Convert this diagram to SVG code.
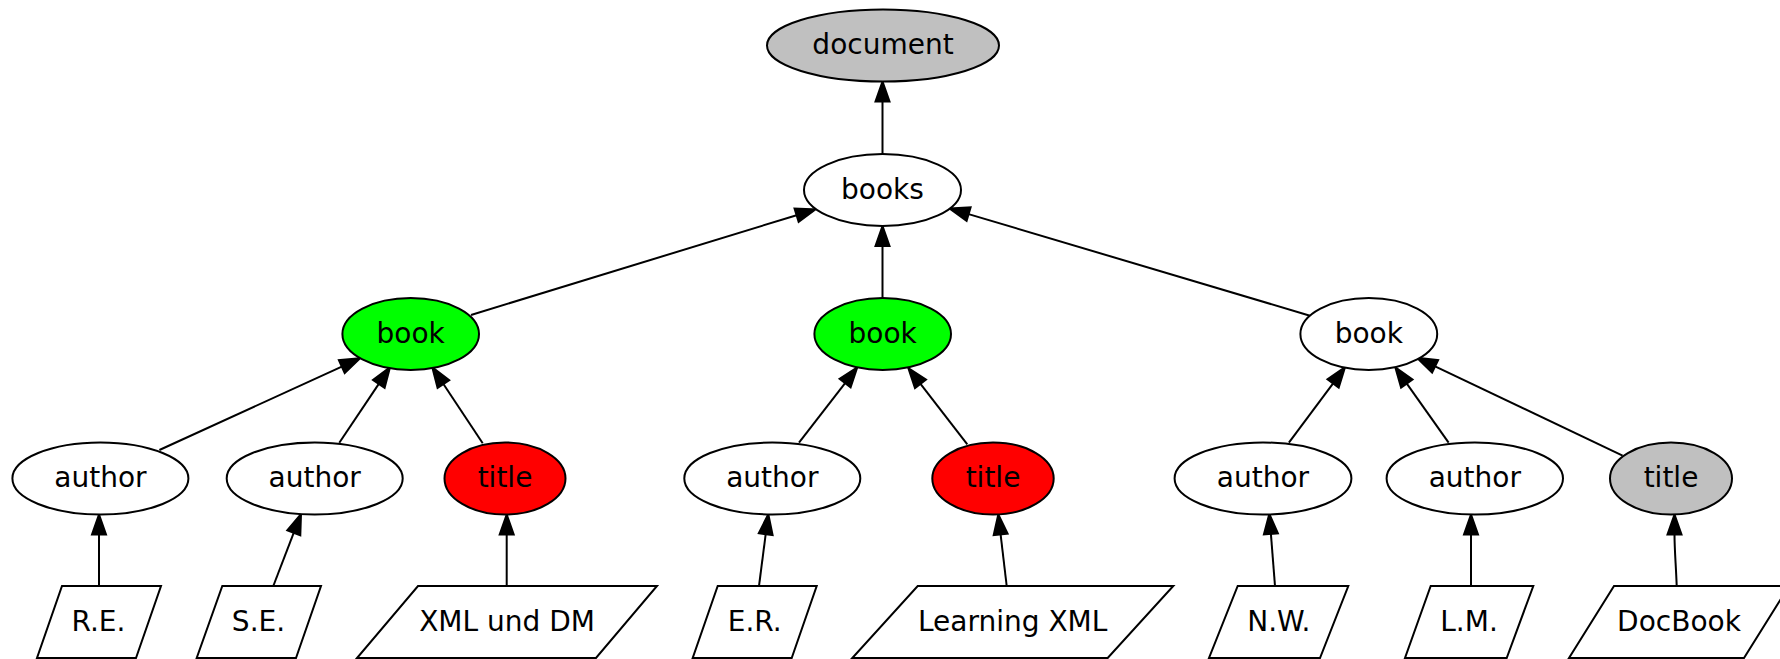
<svg xmlns="http://www.w3.org/2000/svg" width="1780" height="659" viewBox="0 0 1780 659">
<style>
.n{stroke:#000;stroke-width:2}
.w{fill:#fff}
.g{fill:#c0c0c0}
.gr{fill:#00ff00}
.r{fill:#ff0000}
text{font-family:"DejaVu Sans",sans-serif;font-size:28px;text-anchor:middle;fill:#000}
.e line,.e path{stroke:#000;stroke-width:2;fill:none}
.e polygon{fill:#000;stroke:#000;stroke-width:2}
</style>
<rect width="1780" height="659" fill="#fff"/>
<g class="e" id="connectors">
<line x1="882.5" y1="154" x2="882.5" y2="101.5"/><polygon points="882.5,81.5 875.5,101.5 889.5,101.5"/>
<line x1="471" y1="315" x2="796.6" y2="215.2"/><polygon points="815.7,209.3 798.65,221.9 794.55,208.5"/>
<line x1="882.5" y1="297.7" x2="882.5" y2="246"/><polygon points="882.5,226 875.5,246 889.5,246"/>
<line x1="1310" y1="315.7" x2="968.6" y2="214.1"/><polygon points="949.4,208.4 970.6,207.4 966.6,220.8"/>
<line x1="159.4" y1="450" x2="341.8" y2="366.6"/><polygon points="360,358.3 344.7,373 338.9,360.2"/>
<line x1="339.3" y1="442.7" x2="378.8" y2="383.9"/><polygon points="390,367.3 384.6,387.8 373,380"/>
<line x1="482.7" y1="443.3" x2="443.4" y2="384"/><polygon points="432.3,367.3 449.2,380.1 437.6,387.9"/>
<line x1="799" y1="442.7" x2="845.1" y2="383.1"/><polygon points="857.3,367.3 850.6,387.4 839.6,378.8"/>
<line x1="967.3" y1="444.3" x2="920.5" y2="383.8"/><polygon points="908.3,368 926,379.5 915,388.1"/>
<line x1="1288.9" y1="442.7" x2="1333.1" y2="383.4"/><polygon points="1345,367.3 1338.7,387.6 1327.5,379.2"/>
<line x1="1448.6" y1="442.7" x2="1406.8" y2="383.6"/><polygon points="1395.3,367.3 1412.5,379.6 1401.1,387.6"/>
<line x1="1622.6" y1="455.7" x2="1435.1" y2="366.3"/><polygon points="1417,357.7 1438.1,360 1432.1,372.6"/>
<line x1="99" y1="586" x2="99" y2="534.5"/><polygon points="99,514.5 92,534.5 106,534.5"/>
<line x1="273.3" y1="586" x2="293.8" y2="532.7"/><polygon points="301,514 300.3,535.2 287.3,530.2"/>
<line x1="506.7" y1="586" x2="506.7" y2="534.5"/><polygon points="506.7,514.5 499.7,534.5 513.7,534.5"/>
<line x1="759" y1="586" x2="765.7" y2="534.1"/><polygon points="768.3,514.3 772.6,535 758.8,533.2"/>
<line x1="1006.7" y1="586" x2="1000.6" y2="534.4"/><polygon points="998.3,514.5 1007.6,533.6 993.7,535.2"/>
<line x1="1275" y1="586" x2="1270.9" y2="533.9"/><polygon points="1269.3,514 1277.9,533.4 1263.9,534.5"/>
<line x1="1471" y1="586" x2="1471" y2="534.5"/><polygon points="1471,514.5 1464,534.5 1478,534.5"/>
<path d="M1676.7,586 C1676,566 1674.5,550 1674.5,534.5"/><polygon points="1674.5,514.5 1667.5,534.5 1681.5,534.5"/>
</g>
<g id="document"><ellipse class="n g" cx="883" cy="45.5" rx="116" ry="36"/><text x="883" y="54">document</text></g>
<g id="books"><ellipse class="n w" cx="882.5" cy="190" rx="78.5" ry="36"/><text x="882.5" y="198.5">books</text></g>
<g id="book1"><ellipse class="n gr" cx="410.7" cy="334" rx="68.3" ry="36"/><text x="410.7" y="342.5">book</text></g>
<g id="book2"><ellipse class="n gr" cx="882.7" cy="334" rx="68.3" ry="36"/><text x="882.7" y="342.5">book</text></g>
<g id="book3"><ellipse class="n w" cx="1368.8" cy="334" rx="68.4" ry="36"/><text x="1368.8" y="342.5">book</text></g>
<g id="author1"><ellipse class="n w" cx="100.4" cy="478.5" rx="88" ry="36"/><text x="100.4" y="487">author</text></g>
<g id="author2"><ellipse class="n w" cx="314.7" cy="478.5" rx="88" ry="36"/><text x="314.7" y="487">author</text></g>
<g id="title1"><ellipse class="n r" cx="505" cy="478.5" rx="60.5" ry="36"/><text x="505" y="487">title</text></g>
<g id="author3"><ellipse class="n w" cx="772.3" cy="478.5" rx="88" ry="36"/><text x="772.3" y="487">author</text></g>
<g id="title2"><ellipse class="n r" cx="993" cy="478.5" rx="60.7" ry="36"/><text x="993" y="487">title</text></g>
<g id="author4"><ellipse class="n w" cx="1263" cy="478.5" rx="88.4" ry="36"/><text x="1263" y="487">author</text></g>
<g id="author5"><ellipse class="n w" cx="1474.8" cy="478.5" rx="88.2" ry="36"/><text x="1474.8" y="487">author</text></g>
<g id="title3"><ellipse class="n g" cx="1671" cy="478.5" rx="61" ry="36"/><text x="1671" y="487">title</text></g>
<g id="re"><polygon class="n w" points="62,586 161,586 136,658 37,658"/><text x="98.5" y="631">R.E.</text></g>
<g id="se"><polygon class="n w" points="222.3,586 321,586 296,658 196.7,658"/><text x="258.5" y="631">S.E.</text></g>
<g id="xmldm"><polygon class="n w" points="418,586 657,586 596,658 357,658"/><text x="507" y="631">XML und DM</text></g>
<g id="er"><polygon class="n w" points="717.7,586 816.7,586 791.7,658 692.7,658"/><text x="754.7" y="631">E.R.</text></g>
<g id="lxml"><polygon class="n w" points="917.7,586 1173.3,586 1107.7,658 852.3,658"/><text x="1012.7" y="631">Learning XML</text></g>
<g id="nw"><polygon class="n w" points="1237.7,586 1348.3,586 1320,658 1209,658"/><text x="1278.8" y="631">N.W.</text></g>
<g id="lm"><polygon class="n w" points="1430.7,586 1533.3,586 1506.7,658 1405,658"/><text x="1469" y="631">L.M.</text></g>
<g id="docbook"><polygon class="n w" points="1614,586 1789,586 1744,658 1569,658"/><text x="1679" y="631">DocBook</text></g>
</svg>
